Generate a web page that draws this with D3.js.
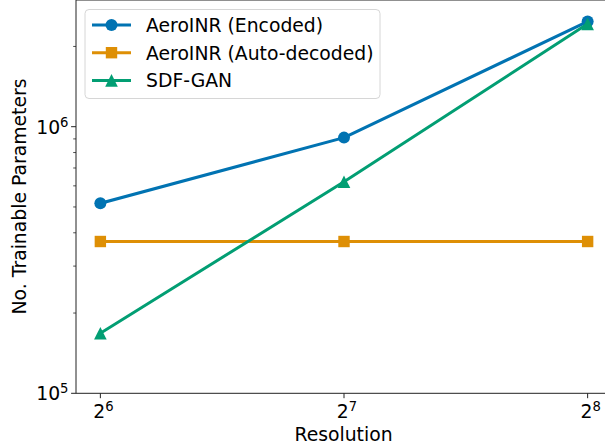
<!DOCTYPE html>
<html>
<head>
<meta charset="utf-8">
<script src="https://cdn.jsdelivr.net/npm/d3@7"></script>
<style>
  html, body { margin: 0; padding: 0; background: #fff; }
  svg { display: block; }
</style>
</head>
<body>
<div class="chart"></div>
<script>
// values
const resolutions = [64, 128, 256];
const encoded = [5.16e5, 9.1e5, 2.48e6];
const autoDecoded = [3.71e5, 3.71e5, 3.71e5];
const sdfGan = [1.68e5, 6.22e5, 2.43e6];
const seriesNames = ['AeroINR (Encoded)', 'AeroINR (Auto-decoded)', 'SDF-GAN'];
const xTickExps = [6, 7, 8];
const yTickExps = [5, 6];

const width = 605, height = 446;
const colors = ['#0173b2', '#de8f05', '#029e73'];
const shapes = ['circle', 'square', 'triangle'];
const fontFamily = '"DejaVu Sans", sans-serif';
const fs = 18.8, fsSup = 13.2;

const x = d3.scaleLog().base(2)
  .domain([Math.pow(2, 5.9), Math.pow(2, 8.1)])
  .range([76, 612]);
const y = d3.scaleLog()
  .domain([1e5, 3e6])
  .range([393.3, -0.5]);

const svg = d3.select('.chart')
  .append('svg')
  .attr('width', width)
  .attr('height', height)
  .style('font-family', fontFamily);

const series = [encoded, autoDecoded, sdfGan].map((vals, i) => ({
  name: seriesNames[i],
  color: colors[i],
  shape: shapes[i],
  points: vals.map((v, j) => ({ x: resolutions[j], y: v }))
}));

// axes frame
const [x0, x1] = x.range();
const [yb, yt] = y.range();
svg.append('line').attr('x1', x0).attr('x2', x0).attr('y1', yb).attr('y2', yt)
  .attr('stroke', '#222').attr('stroke-width', 1);
svg.append('line').attr('x1', x0).attr('x2', x1).attr('y1', yb).attr('y2', yb)
  .attr('stroke', '#222').attr('stroke-width', 1);
svg.append('line').attr('x1', x0).attr('x2', x1).attr('y1', yt + 0.5).attr('y2', yt + 0.5)
  .attr('stroke', '#222').attr('stroke-width', 1);

// y ticks
const minor = [];
for (let e = 5; e <= 6; e++) for (let m = 2; m <= 9; m++) {
  const v = m * Math.pow(10, e);
  if (v <= y.domain()[1]) minor.push(v);
}
svg.selectAll('.ymin').data(minor).join('line')
  .attr('x1', x0 - 2.8).attr('x2', x0)
  .attr('y1', d => y(d)).attr('y2', d => y(d))
  .attr('stroke', '#222').attr('stroke-width', 0.8);
svg.selectAll('.ymaj').data(yTickExps).join('line')
  .attr('x1', x0 - 4.9).attr('x2', x0)
  .attr('y1', d => y(Math.pow(10, d))).attr('y2', d => y(Math.pow(10, d)))
  .attr('stroke', '#222').attr('stroke-width', 1);
const yl = svg.selectAll('.ylab').data(yTickExps).join('text')
  .attr('x', x0 - 7.5)
  .attr('y', d => y(Math.pow(10, d)) + 6.8)
  .attr('text-anchor', 'end')
  .attr('font-size', fs)
  .attr('fill', '#000');
yl.append('tspan').text('10');
yl.append('tspan').attr('dy', -7).attr('font-size', fsSup).text(d => d);

// x ticks
svg.selectAll('.xmaj').data(xTickExps).join('line')
  .attr('x1', d => x(Math.pow(2, d))).attr('x2', d => x(Math.pow(2, d)))
  .attr('y1', yb).attr('y2', yb + 4.9)
  .attr('stroke', '#222').attr('stroke-width', 1);
const xl = svg.selectAll('.xlab').data(xTickExps).join('text')
  .attr('x', d => x(Math.pow(2, d)) + 3)
  .attr('y', 417.5)
  .attr('text-anchor', 'middle')
  .attr('font-size', fs)
  .attr('fill', '#000');
xl.append('tspan').text('2');
xl.append('tspan').attr('dy', -7).attr('font-size', fsSup).text(d => d);

// axis titles
svg.append('text')
  .attr('x', (x0 + x1) / 2 - 0.5).attr('y', 440.5)
  .attr('text-anchor', 'middle').attr('font-size', fs)
  .text('Resolution');
svg.append('text')
  .attr('transform', 'translate(25.5,196.5) rotate(-90)')
  .attr('text-anchor', 'middle').attr('font-size', fs)
  .text('No. Trainable Parameters');

function marker(sel, shape, color) {
  if (shape === 'circle') {
    sel.append('circle').attr('r', 6).attr('fill', color);
  } else if (shape === 'square') {
    sel.append('rect').attr('x', -5.7).attr('y', -5.7)
      .attr('width', 11.4).attr('height', 11.4).attr('fill', color);
  } else {
    sel.append('path').attr('d', 'M0,-6.3L-6.3,6.3L6.3,6.3Z').attr('fill', color);
  }
}

const line = d3.line().x(d => x(d.x)).y(d => y(d.y));

const g = svg.selectAll('.series').data(series).join('g');
g.append('path')
  .attr('d', d => line(d.points))
  .attr('fill', 'none')
  .attr('stroke', d => d.color)
  .attr('stroke-width', 3)
  .attr('stroke-linejoin', 'round')
  .attr('stroke-linecap', 'square');
g.each(function(s) {
  d3.select(this).selectAll('.pt').data(s.points).join('g')
    .attr('transform', d => `translate(${x(d.x)},${y(d.y)})`)
    .each(function() { marker(d3.select(this), s.shape, s.color); });
});

// legend
const legend = svg.append('g').attr('transform', 'translate(85,9.5)');
legend.append('rect')
  .attr('width', 295).attr('height', 89).attr('rx', 4)
  .attr('fill', 'rgba(255,255,255,0.8)')
  .attr('stroke', '#d6d6d6').attr('stroke-width', 1);
const rows = legend.selectAll('.row').data(series).join('g')
  .attr('transform', (d, i) => `translate(0,${15.5 + i * 27.7})`);
rows.append('line')
  .attr('x1', 7).attr('x2', 46)
  .attr('stroke', d => d.color).attr('stroke-width', 3);
rows.each(function(s) {
  const m = d3.select(this).append('g').attr('transform', 'translate(26.5,0)');
  marker(m, s.shape, s.color);
});
rows.append('text')
  .attr('x', 61).attr('y', 6.8)
  .attr('font-size', fs)
  .attr('fill', '#000')
  .text(d => d.name);
</script>
</body>
</html>
